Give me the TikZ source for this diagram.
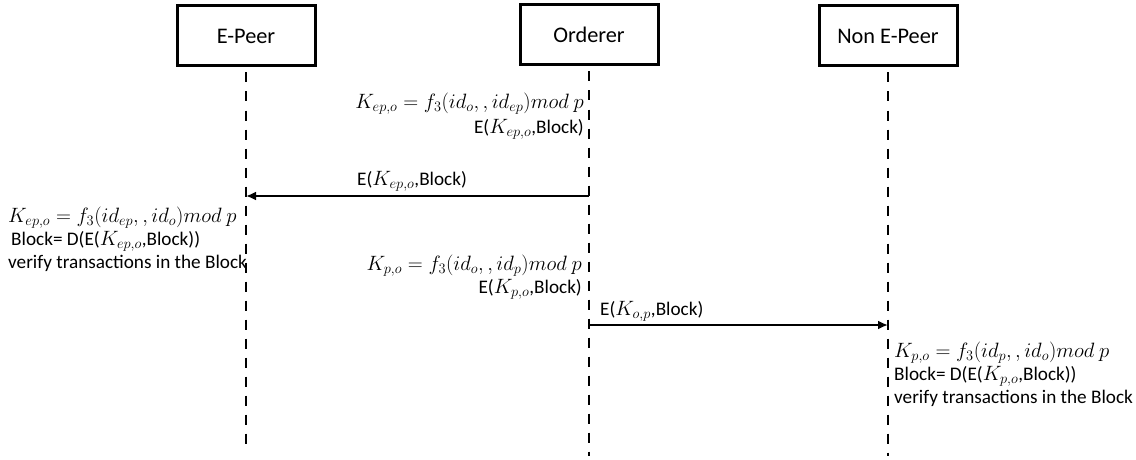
\documentclass[tikz,border=0pt]{standalone}
\usepackage{fontspec}
\setmainfont{Carlito}
\usetikzlibrary{arrows.meta}
\begin{document}
\begin{tikzpicture}[x=1pt,y=-1pt,
  actor/.style={draw,line width=3pt,minimum width=138pt,minimum height=60pt,
    inner sep=0pt,font=\fontsize{22.3}{26}\selectfont},
  lifeline/.style={line width=2.6pt,dash pattern=on 10pt off 9pt},
  msg/.style={line width=2.5pt,-{Latex[length=10pt,width=9pt]}},
  txt/.style={font=\fontsize{19.2}{23}\selectfont,inner sep=0pt},
  eq/.style={font=\fontsize{21}{24}\selectfont,inner sep=0pt}]
\useasboundingbox (0,0) rectangle (1136,460);

% participants
\node[actor] (ep) at (246,36) {E-Peer};
\node[actor] (or) at (589,35) {Orderer};
\node[actor] (ne) at (888,36) {Non E-Peer};

% lifelines
\coordinate (epEnd) at (246,446);
\coordinate (orEnd) at (589,456);
\coordinate (neEnd) at (888,456);
\draw[lifeline] ([yshift=-5pt]ep.south) -- (epEnd);
\draw[lifeline] ([yshift=-5pt]or.south) -- (orEnd);
\draw[lifeline] ([yshift=-5pt]ne.south) -- (neEnd);

% message endpoints on the lifelines
\coordinate (m1s) at (589,196);
\coordinate (m1e) at (246,196);
\coordinate (m2s) at (589,325);
\coordinate (m2e) at (888,325);

% orderer encrypts for the E-Peer
\node[eq,anchor=east] (o1a) at (584,104) {$K_{ep,o}=f_3\bigl(id_o,,id_{ep}\bigr)mod\ p$};
\node[txt,anchor=east] (o1b) at (584,129) {E($K_{ep,o}$,Block)};

\draw[msg] (m1s) -- (m1e);
\node[txt,anchor=west] (m1l) at (357,181) {E($K_{ep,o}$,Block)};

% E-Peer decrypts
\node[eq,anchor=west] (e1a) at (8,218) {$K_{ep,o}=f_3\bigl(id_{ep},,id_o\bigr)mod\ p$};
\node[txt,anchor=west] (e1b) at (11,241) {Block= D(E($K_{ep,o}$,Block))};
\node[txt,anchor=west] (e1c) at (8,263) {verify transactions in the Block};

% orderer encrypts for the Non E-Peer
\node[eq,anchor=east] (o2a) at (582,266) {$K_{p,o}=f_3\bigl(id_o,,id_p\bigr)mod\ p$};
\node[txt,anchor=east] (o2b) at (582,289) {E($K_{p,o}$,Block)};

\draw[msg] (m2s) -- (m2e);
\node[txt,anchor=west] (m2l) at (600,311) {E($K_{o,p}$,Block)};

% Non E-Peer decrypts
\node[eq,anchor=west] (n1a) at (894,353) {$K_{p,o}=f_3\bigl(id_p,,id_o\bigr)mod\ p$};
\node[txt,anchor=west] (n1b) at (894,376) {Block= D(E($K_{p,o}$,Block))};
\node[txt,anchor=west] (n1c) at (894,398) {verify transactions in the Block};
\end{tikzpicture}
\end{document}
